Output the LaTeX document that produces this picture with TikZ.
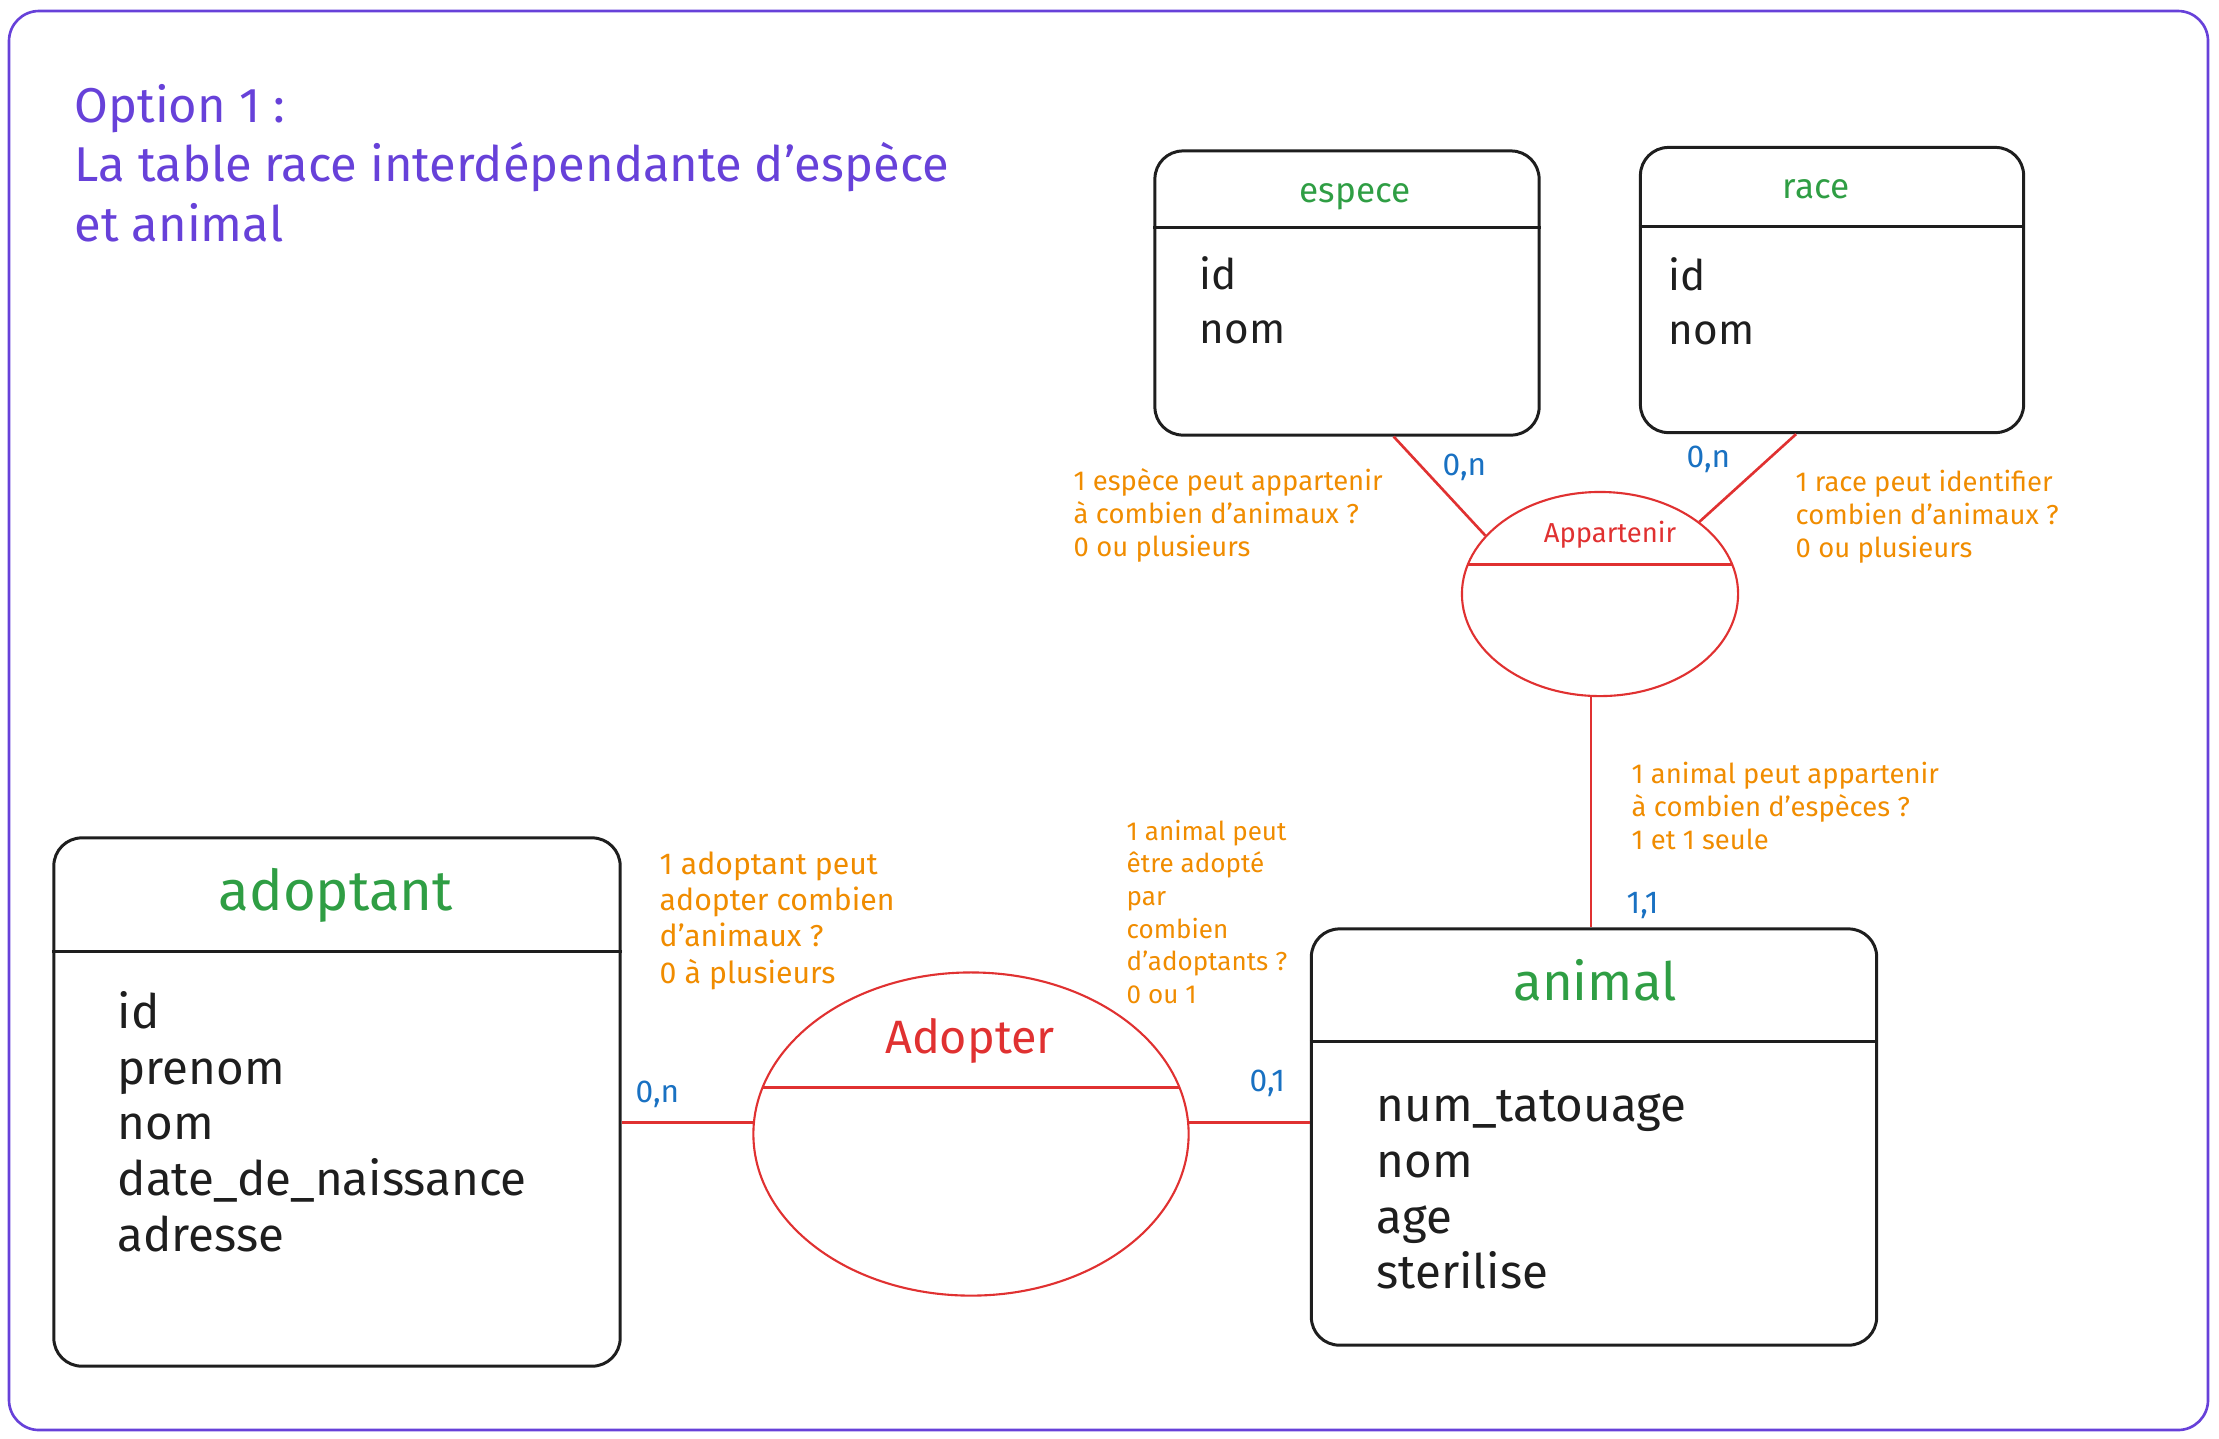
\documentclass[tikz,border=0pt]{standalone}
\usepackage{fontspec}
\setmainfont{Fira Sans}
\usetikzlibrary{shapes.geometric}
\definecolor{exviolet}{HTML}{6741D9}
\definecolor{exgreen}{HTML}{2F9E44}
\definecolor{exred}{HTML}{E03131}
\definecolor{exorange}{HTML}{F08C00}
\definecolor{exblue}{HTML}{1971C2}
\definecolor{exblack}{HTML}{1E1E1E}

\begin{document}
\begin{tikzpicture}[x=0.01cm,y=-0.01cm,
  box/.style={draw=exblack,line width=0.85pt,rounded corners=0.28cm,inner sep=0},
  assoc/.style={draw=exred,ellipse,line width=0.6pt,inner sep=0},
  link/.style={exred,line width=0.75pt},
  tname/.style={exgreen,anchor=base,inner sep=0},
  attrs/.style={exblack,align=left,anchor=north west,inner sep=0},
  note/.style={exorange,align=left,anchor=north west,inner sep=0},
  card/.style={exblue,anchor=base west,inner sep=0,font=\fontsize{9}{11}\selectfont}]
\useasboundingbox (0,0) rectangle (2219,1438);
\draw[exviolet,line width=0.75pt,rounded corners=0.3cm] (9,11) rectangle (2208,1430);
\node[exviolet,align=left,anchor=north west,inner sep=0,font=\fontsize{13.9}{16.8}\selectfont] (titre) at (74,84) {Option 1 :\\La table race interdépendante d'espèce\\et animal};

% tables
\node[box,minimum width=3.84cm,minimum height=2.84cm] (espece) at (1347,293) {};
\draw[exblack,line width=0.85pt] (espece.west |- 0,227) -- (espece.east |- 0,227);
\node[tname,font=\fontsize{10}{12}\selectfont] (especet) at (1355,202) {espece};
\node[attrs,font=\fontsize{12}{15.2}\selectfont] (especea) at (1199,256) {id\\nom};

\node[box,minimum width=3.83cm,minimum height=2.85cm] (race) at (1832,290) {};
\draw[exblack,line width=0.85pt] (race.west |- 0,226) -- (race.east |- 0,226);
\node[tname,font=\fontsize{10}{12}\selectfont] (racet) at (1816,198) {race};
\node[attrs,font=\fontsize{12}{15.2}\selectfont] (racea) at (1668,257) {id\\nom};

\node[box,minimum width=5.66cm,minimum height=5.28cm] (adoptant) at (337,1102) {};
\draw[exblack,line width=0.85pt] (adoptant.west |- 0,951) -- (adoptant.east |- 0,951);
\node[tname,font=\fontsize{16}{19}\selectfont] (adoptantt) at (336,910) {adoptant};
\node[attrs,font=\fontsize{13.5}{15.8}\selectfont] (adoptanta) at (117,991) {id\\prenom\\nom\\date\_de\_naissance\\adresse};

\node[box,minimum width=5.65cm,minimum height=4.16cm] (animal) at (1594,1137) {};
\draw[exblack,line width=0.85pt] (animal.west |- 0,1041) -- (animal.east |- 0,1041);
\node[tname,font=\fontsize{15}{18}\selectfont] (animalt) at (1595,1000) {animal};
\node[attrs,font=\fontsize{13.5}{15.8}\selectfont] (animala) at (1376,1090) {num\_tatouage\\nom\\age\\sterilise};

% associations
\node[assoc,minimum width=2.76cm,minimum height=2.04cm] (appartenir) at (1600,594) {};
\draw[exred,line width=0.85pt] (1468,564) -- (1732,564);
\node[exred,anchor=base,inner sep=0,font=\fontsize{7.8}{9}\selectfont] (appartenirt) at (1610,542) {Appartenir};

\node[assoc,minimum width=4.35cm,minimum height=3.23cm] (adopter) at (971,1134) {};
\draw[exred,line width=0.85pt] (763,1087) -- (1179,1087);
\node[exred,anchor=base,inner sep=0,font=\fontsize{13.3}{15}\selectfont] (adoptert) at (970,1053) {Adopter};

% liens
\draw[link] (espece.-72) -- (appartenir.153);
\draw[link] (race.-104) -- (appartenir.36);
\draw[link] (appartenir.-95) -- (appartenir.-95 |- animal.north);
\draw[link] (adopter.177 -| adoptant.east) -- (adopter.177);
\draw[link] (adopter.3) -- (adopter.3 -| animal.west);

% cardinalites
\node[card] (c1) at (1442,475) {0,n};
\node[card] (c2) at (1686,467) {0,n};
\node[card] (c3) at (1626,913) {1,1};
\node[card] (c4) at (635,1102) {0,n};
\node[card] (c5) at (1249,1091) {0,1};

% questions
\node[note,font=\fontsize{7.8}{9.4}\selectfont] (qespece) at (1073,468) {1 espèce peut appartenir\\à combien d'animaux ?\\0 ou plusieurs};
\node[note,font=\fontsize{7.8}{9.4}\selectfont] (qrace) at (1795,469) {1 race peut identifier\\combien d'animaux ?\\0 ou plusieurs};
\node[note,font=\fontsize{7.8}{9.4}\selectfont] (qanimal) at (1631,761) {1 animal peut appartenir\\à combien d'espèces ?\\1 et 1 seule};
\node[note,font=\fontsize{8.6}{10.3}\selectfont] (qadoptant) at (659,851) {1 adoptant peut\\adopter combien\\d'animaux ?\\0 à plusieurs};
\node[note,font=\fontsize{7.4}{9.3}\selectfont] (qadopte) at (1126,819) {1 animal peut\\être adopté\\par\\combien\\d'adoptants ?\\0 ou 1};
\end{tikzpicture}
\end{document}
